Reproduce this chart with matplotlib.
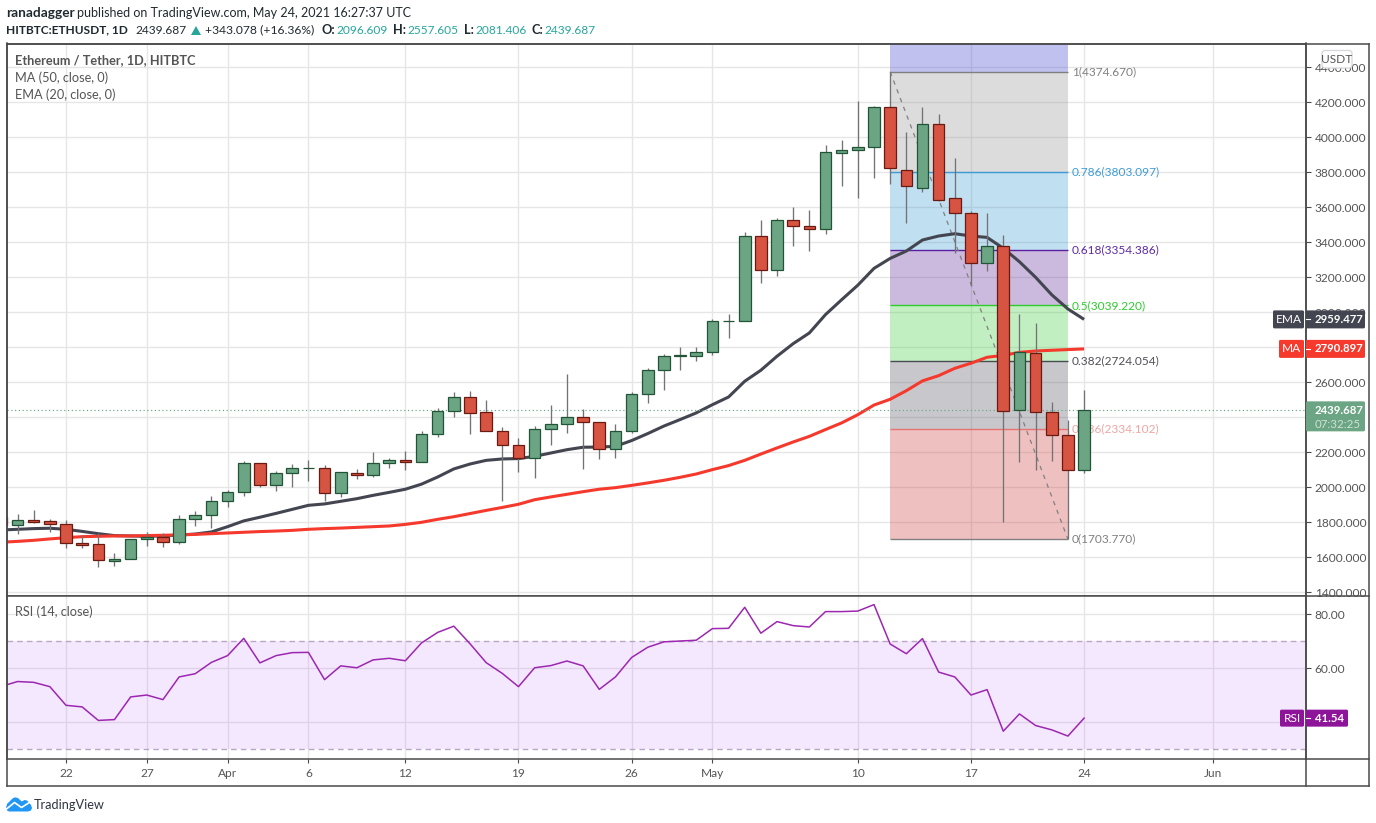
import matplotlib
matplotlib.use("Agg")
import matplotlib.pyplot as plt
from matplotlib.patches import Rectangle, FancyBboxPatch, Polygon

plt.rcParams['font.family'] = ['Lato', 'DejaVu Sans']

W, H = 1376, 823
FS = 8.6
FT = 9.15

# day index: 0 = 22 Mar 2021
first_day = -4
opens  = [1829,1783,1811,1805,1788,1680,1674,1581,1589,1703,1718,1686,1817,1840,1920,1971,2137,2011,2080,2109,
          2109,1966,2080,2068,2137,2154,2143,2305,2436,2516,2430,2322,2242,2166,2333,2362,2402,2373,2219,2322,
          2533,2670,2750,2750,2773,2950,2950,3436,3242,3530,3491,3478,3912,3926,3943,4171,3811,3712,4074,3651,
          3569,3284,3377,2440,2766,2429,2297,2096.609]
highs  = [1840,1848,1870,1819,1811,1728,1741,1623,1703,1745,1740,1840,1865,1950,1985,2150,2137,2093,2133,2156,
          2128,2086,2105,2204,2168,2208,2322,2455,2547,2552,2501,2347,2284,2352,2472,2650,2450,2373,2364,2545,
          2684,2762,2804,2804,2964,2992,3461,3525,3540,3600,3585,3954,3985,4208,4179,4374.67,4030,4173,4133,3882,
          3577,3568,3442,2990,2937,2488,2385,2557.605]
lows   = [1780,1733,1798,1747,1653,1653,1547,1552,1589,1667,1661,1678,1781,1769,1889,1950,2002,1981,2002,2036,
          1922,1945,2048,2059,2110,2101,2143,2286,2400,2303,2322,1920,2086,2051,2240,2309,2103,2160,2166,2309,
          2484,2558,2669,2724,2754,2851,2950,3166,3206,3377,3352,3449,3724,3655,3769,3735,3512,3689,3634,3341,
          3150,3238,1804,2147,2101,2150,1703.77,2081.406]
closes = [1783,1811,1804,1788,1680,1672,1583,1589,1703,1718,1686,1817,1840,1920,1971,2137,2011,2080,2109,2111,
          1966,2086,2072,2137,2154,2143,2305,2436,2516,2425,2322,2242,2166,2333,2362,2402,2373,2219,2322,2533,
          2670,2750,2758,2773,2950,2952,3436,3242,3530,3492,3478,3914,3926,3943,4171,3823,3720,4074,3644,3569,
          3280,3377,2434,2771,2429,2297,2097,2439.687]

ema20 = [1756,1760,1764,1766,1760,1748,1735,1724,1722,1720,1722,1727,1733,1745,1775,1808,1829,1851,1874,1897,
         1905,1920,1935,1954,1971,1989,2018,2059,2105,2133,2154,2162,2164,2177,2196,2215,2229,2230,2234,2267,
         2307,2350,2387,2425,2472,2516,2606,2669,2749,2821,2882,2987,3072,3155,3251,3308,3350,3413,3436,3449,
         3436,3428,3366,3289,3200,3100,3019,2959.477]
ma50  = [1686,1691,1697,1705,1712,1718,1720,1722,1722,1724,1726,1728,1731,1735,1739,1743,1747,1750,1754,1760,
         1764,1767,1771,1775,1779,1788,1800,1817,1832,1850,1868,1885,1903,1929,1945,1960,1975,1989,1998,2011,
         2025,2040,2057,2076,2101,2124,2154,2190,2225,2259,2291,2330,2368,2415,2470,2503,2552,2608,2638,2680,
         2709,2743,2754,2771,2779,2783,2787,2790.897]
rsi14 = [53.3,55.1,54.8,53.2,46.3,45.7,40.7,41.0,49.4,50.1,48.4,56.8,58.0,62.2,64.7,71.1,62.0,64.7,65.8,65.9,
         55.8,60.9,60.2,63.1,63.7,62.8,69.4,73.3,75.6,69.1,62.1,58.1,53.2,60.2,61.0,62.7,60.9,52.2,56.8,64.0,
         67.8,69.8,70.1,70.4,74.7,74.8,82.6,73.0,77.3,75.8,75.3,81.0,81.0,81.2,83.6,69.0,65.4,71.0,58.6,56.8,
         50.1,52.1,36.7,43.1,38.8,37.2,34.9,41.54]
days = [first_day + k for k in range(len(closes))]

date_ticks = [0, 5, 10, 15, 21, 28, 35, 40, 49, 56, 63, 71]
date_labels = ['22', '27', 'Apr', '6', '12', '19', '26', 'May', '10', '17', '24', 'Jun']
price_ticks = [1400, 1600, 1800, 2000, 2200, 2400, 2600, 2800, 3000, 3200, 3400, 3600, 3800, 4000, 4200, 4400]
price_hidden = [2400, 2800]
rsi_ticks = [40, 60, 80]
rsi_hidden = [40]

fib_start_day, fib_end_day = 51, 62
fib_levels = [1.0, 0.786, 0.618, 0.5, 0.382, 0.236, 0.0]
fib_prices = [4374.670, 3803.097, 3354.386, 3039.220, 2724.054, 2334.102, 1703.770]
fib_line_colors = ['#808080', '#3c9ad6', '#5a1fa0', '#2ecb2e', '#4a4a55', '#e57373', '#808080']
fib_text_colors = ['#808080', '#3c9ad6', '#5f2aa3', '#2ecb2e', '#4f4f58', '#efa5a5', '#808080']
fib_fill_colors = ['#3434cd', '#8e8e8e', '#3095d0', '#551c91', '#34cd34', '#4b4b58', '#cd3030']

# geometry in px
L, R, T, M, B, BOTTOM, OUTER = 6.5, 1305.5, 43.5, 595.5, 758.5, 786.0, 1368.5
px_per_day = 16.16
XLIM = ((L - 66) / px_per_day, (R - 66) / px_per_day)
YLIM = (4200 - (M - 102.3) / 0.175, 4200 + (102.3 - T) / 0.175)
RLIM = (80 - (B - 614.3) / 2.7, 80 + (614.3 - M) / 2.7)

GRID = '#e6e6e6'
FRAME = '#4a4a4a'
TXT = '#555555'
UP, UP_E = '#6ba583', '#225437'
DN, DN_E = '#d75442', '#6b1a12'
WICK = '#737375'


def box(x0, y0, x1, y1):
    return [x0 / W, 1 - y1 / H, (x1 - x0) / W, (y1 - y0) / H]


fig = plt.figure(figsize=(W / 100, H / 100), dpi=100, facecolor='white')
ax = fig.add_axes(box(L, T, R, M))
rx = fig.add_axes(box(L, M, R, B))

for a, lim in ((ax, YLIM), (rx, RLIM)):
    a.set_xlim(*XLIM)
    a.set_ylim(*lim)
    a.set_axisbelow(True)
    a.grid(True, color=GRID, lw=1.0)
    a.yaxis.tick_right()
    a.set_xticks(date_ticks)
    for s in a.spines.values():
        s.set_color(FRAME)
        s.set_linewidth(1.1)

ax.set_yticks(price_ticks)
ax.set_yticklabels(['' if p in price_hidden else f'{p:.3f}' for p in price_ticks])
ax.tick_params(axis='y', length=3.6, width=0.8, color=FRAME, labelcolor=TXT, labelsize=FS, pad=3.0)
ax.tick_params(axis='x', length=0, labelbottom=False)

rx.set_yticks(rsi_ticks)
rx.set_yticklabels(['' if v in rsi_hidden else f'{v:.2f}' for v in rsi_ticks])
rx.tick_params(axis='y', length=3.6, width=0.8, color=FRAME, labelcolor=TXT, labelsize=FS, pad=3.0)
rx.set_xticklabels(date_labels)
rx.tick_params(axis='x', length=3.0, width=0.8, color=FRAME, labelcolor=TXT, labelsize=FS, pad=4)

# Fibonacci retracement
edges = [YLIM[1]] + fib_prices
for k, col in enumerate(fib_fill_colors):
    ax.fill_between([fib_start_day, fib_end_day], edges[k + 1], edges[k], color=col, alpha=0.3, lw=0, zorder=1)
ax.hlines(fib_prices, fib_start_day, fib_end_day, colors=fib_line_colors, lw=1.0, zorder=1.5)
ax.plot([fib_start_day, fib_end_day], [fib_prices[0], fib_prices[-1]], color='#808080', lw=0.9,
        dashes=(3.5, 4), zorder=1.6)
for lev, pr, col in zip(fib_levels, fib_prices, fib_text_colors):
    ax.annotate(f'{lev:g}({pr:.3f})', (fib_end_day, pr), xytext=(3, 0), textcoords='offset points', color=col,
                fontsize=FS, va='center', ha='left', zorder=1.7)

# moving averages
ax.plot(days, ema20, color='#434651', lw=2.2, zorder=2, solid_capstyle='butt')
ax.plot(days, ma50, color='#f5392d', lw=2.2, zorder=2.1, solid_capstyle='butt')

# last price
ax.axhline(closes[-1], color=UP, lw=0.85, ls=(0, (1, 2.2)), zorder=2.2)

# candles
for d, o, h, l, c in zip(days, opens, highs, lows, closes):
    up = c >= o
    ax.vlines(d, l, h, color=WICK, lw=0.95, zorder=3)
    ax.bar(d, abs(c - o), bottom=min(o, c), width=0.72, color=UP if up else DN,
           edgecolor=UP_E if up else DN_E, lw=0.9, zorder=3.1)

# RSI pane
rx.axhspan(30, 70, color='#9c27ff', alpha=0.105, lw=0, zorder=1)
for v in (70, 30):
    rx.axhline(v, color='#b8a6c4', lw=1.0, dashes=(4, 3), zorder=1.2)
rx.plot(days, rsi14, color='#9c27b0', lw=1.1, zorder=2)

# chrome overlay in pixel coordinates
ov = fig.add_axes([0, 0, 1, 1], zorder=10)
ov.set_xlim(0, W)
ov.set_ylim(H, 0)
ov.axis('off')
ov.patch.set_alpha(0)


def ypx(a, v):
    return H - a.transData.transform((0, v))[1]


for x0, y0, x1, y1 in ((L, T, OUTER, T), (OUTER, T, OUTER, BOTTOM), (L, BOTTOM, OUTER, BOTTOM),
                       (L, T, L, BOTTOM), (R, T, R, BOTTOM), (R, M, OUTER, M), (R, B, OUTER, B)):
    ov.plot([x0, x1], [y0, y1], color=FRAME, lw=1.1, solid_capstyle='projecting')


def tag(x0, x1, yc, h, col):
    ov.add_patch(FancyBboxPatch((x0 + 1, yc - h / 2 + 1), x1 - x0 - 2, h - 2,
                                boxstyle='round,pad=1,rounding_size=1.5', fc=col, ec=col, lw=0, zorder=5))


def txt(x, y, s, col=TXT, ha='left', weight='normal', size=FT, **kw):
    return ov.text(x, y, s, color=col, ha=ha, va='center', fontweight=weight, fontsize=size, zorder=6, **kw)


# value tags
VS = 8.2
y = ypx(ax, ema20[-1])
tag(1273, 1304, y, 18, '#434651'); tag(1306, 1365, y, 18, '#434651')
txt(1288.5, y, 'EMA', 'white', 'center', size=FS); txt(1315, y, f'{ema20[-1]:.3f}', 'white', weight='bold', size=VS)
ov.plot([1305.5, 1310], [y, y], color='white', lw=0.8, zorder=6)
y = ypx(ax, ma50[-1])
tag(1279, 1304, y, 18, '#f5392d'); tag(1306, 1365, y, 18, '#f5392d')
txt(1291.5, y, 'MA', 'white', 'center', size=FS); txt(1315, y, f'{ma50[-1]:.3f}', 'white', weight='bold', size=VS)
ov.plot([1305.5, 1310], [y, y], color='white', lw=0.8, zorder=6)
y = ypx(ax, closes[-1])
tag(1306, 1365, y + 6, 30, UP)
txt(1315, y, f'{closes[-1]:.3f}', 'white', weight='bold', size=VS)
txt(1315, y + 14, '07:32:25', '#cfe3d7', size=8.3)
y = ypx(rx, rsi14[-1])
tag(1280, 1304, y, 17, '#8e1599'); tag(1306, 1348, y, 17, '#8e1599')
txt(1292, y, 'RSI', 'white', 'center', size=FS); txt(1315, y, f'{rsi14[-1]:.2f}', 'white', weight='bold', size=VS)
ov.plot([1305.5, 1310], [y, y], color='white', lw=0.8, zorder=6)

# USDT badge
ov.add_patch(FancyBboxPatch((1322, 50.5), 30, 17.5, boxstyle='round,pad=0,rounding_size=3', fc='white', ec='#d6d6dc',
                            lw=0.9, zorder=5))
txt(1337, 59, 'USDT', TXT, 'center', size=8.6)

# pane titles
txt(15, 60.5, 'Ethereum / Tether, 1D, HITBTC', TXT, weight='bold')
txt(15, 78, 'MA (50, close, 0)')
txt(15, 95, 'EMA (20, close, 0)')
txt(15, 612, 'RSI (14, close)')

# header
DARK = '#1f2a30'
TEAL = '#26a69a'
txt(6.5, 12.7, 'ranadagger', DARK, weight='bold', size=9.8)
txt(77, 12.7, 'published on TradingView.com, May 24, 2021 16:27:37 UTC', DARK, size=9.0)
txt(6.5, 30, 'HITBTC:ETHUSDT, 1D', DARK, weight='bold', size=8.6)
txt(135.5, 30, '2439.687', DARK, size=FS)
ov.add_patch(Polygon([(191, 35), (196, 26), (201, 35)], closed=True, fc=TEAL, ec='none'))
txt(205, 30, '+343.078 (+16.36%)', DARK, size=8.7)
for x_k, k, x_v, v in ((322, 'O:', 336.5, '2096.609'), (393, 'H:', 407.5, '2557.605'),
                       (464, 'L:', 475.5, '2081.406'), (532, 'C:', 544, '2439.687')):
    txt(x_k, 30, k, DARK, weight='bold')
    txt(x_v, 30, v, TEAL, size=FS)

# logo
ov.add_patch(Polygon([(6, 808), (7, 804), (10, 801), (12.5, 798.5), (15, 797.3), (18, 798), (20, 800), (22, 801.5),
                      (24.5, 800), (27, 800.5), (29, 802.5), (31, 805), (32, 808), (31, 810.5), (28, 811.5),
                      (9, 811.5), (7, 810.5)], closed=True, fc='#2196f3', ec='none', zorder=5))
ov.plot([6.5, 14.5, 21.5, 31], [809, 802.5, 807.5, 801.5], color='white', lw=1.2, zorder=6)
txt(34, 805, 'TradingView', '#2f3640', size=9.2)

fig.savefig('out.png', dpi=100, facecolor='white')
